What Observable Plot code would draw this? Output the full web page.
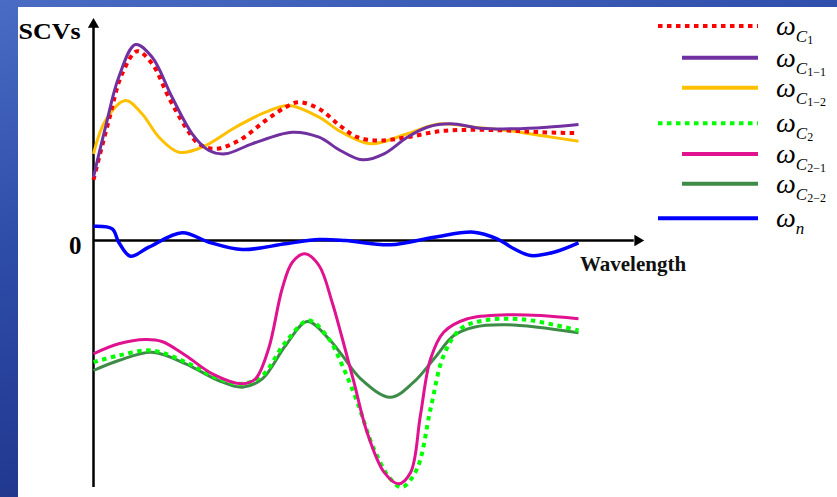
<!DOCTYPE html>
<html><head><meta charset="utf-8">
<script src="https://cdn.jsdelivr.net/npm/d3@7"></script>
<script src="https://cdn.jsdelivr.net/npm/@observablehq/plot@0.6"></script>
<style>
html,body{margin:0;padding:0;}
body{width:837px;height:497px;overflow:hidden;background:linear-gradient(165deg,#4a6cc4 0%,#2d4ca8 35%,#22388f 70%,#1a2c7c 100%);}
#wrap{position:relative;width:837px;height:497px;}
#panel{position:absolute;left:18px;top:7px;right:0;bottom:0;background:#fff;}
#chart{position:absolute;left:0;top:0;}
#legend{position:absolute;left:0;top:0;}
</style></head><body>
<div id="wrap"><div id="panel"></div><div id="chart"></div><svg id="legend" width="837" height="497"></svg></div>
<script>
// ---- data (wavelength index 0..100, SCV value) ----
const omegaC1 = [[0,6.07],[3.15,12.0],[5.9,16.67],[9.0,18.93],[12.1,17.67],[15.5,14.33],[19.0,11.33],[21.7,9.67],[25.2,9.17],[30.0,10.0],[35.5,12.0],[39.6,13.33],[42.3,13.83],[46.5,13.17],[50.9,11.45],[54.4,10.33],[59.2,10.0],[64.7,10.33],[71.5,10.93],[78.4,11.07],[85.3,11.0],[92.2,10.83],[100,10.73]];
const omegaC11 = [[0,6.33],[2.47,11.33],[5.2,16.33],[8.66,19.6],[12.1,18.33],[16.2,14.33],[20.35,10.67],[23.8,9.0],[27.2,8.67],[32.7,9.67],[41.0,10.83],[46.5,10.33],[50.9,9.0],[55.4,8.07],[59.9,8.67],[64.7,10.33],[68.8,11.33],[73.6,11.67],[79.8,11.23],[86.7,11.17],[93.5,11.33],[100,11.6]];
const omegaC12 = [[0,8.67],[2.47,12.0],[6.6,14.0],[10.0,12.67],[13.5,10.33],[17.6,8.83],[22.4,9.33],[29.3,11.33],[35.5,12.83],[40.3,13.5],[46.5,12.33],[50.9,10.9],[57.1,9.67],[64.7,10.67],[71.5,11.67],[78.4,11.33],[85.3,11.0],[92.2,10.5],[100,9.93]];
const omegaC2 = [[0,-12.17],[5.2,-11.5],[12.1,-11.0],[19.0,-12.17],[25.8,-13.83],[30.7,-14.33],[34.8,-13.5],[39.6,-10.17],[44.4,-8.0],[48.5,-9.83],[51.3,-12.5],[54.4,-16.17],[57.8,-20.83],[61.2,-23.83],[63.6,-24.67],[66.7,-22.83],[69.5,-16.83],[72.2,-11.5],[75.7,-8.83],[80.5,-8.0],[88.7,-7.9],[100,-9.0]];
const omegaC21 = [[0,-11.33],[5.2,-10.33],[10.7,-9.9],[14.1,-10.1],[19.0,-11.5],[24.5,-13.33],[30.7,-14.33],[33.4,-13.83],[36.1,-10.83],[38.9,-4.83],[41.0,-2.17],[43.6,-1.33],[46.5,-2.5],[49.2,-6.17],[51.3,-9.8],[53.7,-14.17],[56.4,-19.17],[59.9,-23.17],[62.9,-24.33],[65.4,-23.17],[67.4,-17.5],[69.5,-11.83],[72.2,-9.17],[77.1,-7.83],[85.3,-7.43],[92.2,-7.5],[100,-7.83]];
const omegaC22 = [[0,-13.0],[5.2,-12.0],[12.1,-11.17],[19.0,-12.33],[25.8,-14.0],[30.7,-14.67],[34.8,-13.83],[39.6,-10.5],[44.1,-8.1],[48.5,-9.83],[51.3,-11.5],[55.1,-13.83],[61.2,-15.67],[66.0,-14.17],[70.2,-11.83],[74.3,-9.5],[78.4,-8.67],[85.3,-8.43],[100,-9.23]];
const omegaN = [[0,1.43],[3.86,1.17],[5.2,-0.17],[7.6,-1.57],[11.4,-0.67],[18.3,0.77],[23.8,-0.17],[30.7,-0.9],[39.6,-0.33],[46.5,0.1],[52.0,0],[61.2,-0.43],[70.2,0.33],[78.4,0.83],[83.2,0.17],[86.7,-0.83],[90.1,-1.5],[94.9,-1.17],[100,-0.23]];

const yTicks = [0];
const axisLabels = {x: "Wavelength", y: "SCVs"};

// series definitions
const series = [
  {data: omegaC12, color: "#ffc000", dotted: false, sub: "C", subsub: "1\u22122"},
  {data: omegaC1,  color: "#ff0000", dotted: true,  sub: "C", subsub: "1"},
  {data: omegaC11, color: "#7030a0", dotted: false, sub: "C", subsub: "1\u22121"},
  {data: omegaC22, color: "#3d8b47", dotted: false, sub: "C", subsub: "2\u22122"},
  {data: omegaC2,  color: "#00ff00", dotted: true,  sub: "C", subsub: "2"},
  {data: omegaC21, color: "#e0128f", dotted: false, sub: "C", subsub: "2\u22121"},
  {data: omegaN,   color: "#0000ff", dotted: false, sub: "n", subsub: null}
];
const legendOrder = [1, 2, 0, 4, 5, 3, 6];

const serif = "'Liberation Serif','Times New Roman',serif";

const lineMarks = series.map(s => Plot.line(s.data, {
  x: d => d[0], y: d => d[1], stroke: s.color,
  strokeWidth: s.dotted ? 4 : (s.sub === "n" ? 3.5 : 3),
  strokeDasharray: s.dotted ? "4.5,4.5" : null,
  strokeLinecap: "butt",
  curve: "catmull-rom"
}));

const chart = Plot.plot({
  width: 837, height: 497,
  marginLeft: 93, marginRight: 259, marginTop: 10, marginBottom: 7,
  x: {domain: [0, 100], axis: null},
  y: {domain: [-25, 23], axis: null},
  style: {background: "transparent", overflow: "visible"},
  marks: [
    Plot.ruleX([0], {y1: -24.7, y2: 21.5, stroke: "black", strokeWidth: 2.5}),
    Plot.dot([{x: 0, y: 21.6}], {x: "x", y: "y", symbol: "triangle", r: 4.2, fill: "black", stroke: null}),
    Plot.ruleY([0], {x1: 0, x2: 111.5, stroke: "black", strokeWidth: 2.5}),
    Plot.dot([{x: 112.2, y: 0}], {x: "x", y: "y", symbol: "triangle", r: 4.2, fill: "black", stroke: null, rotate: 90}),
    Plot.axisY(yTicks, {tickSize: 0, tickPadding: 12, fontSize: 25, fontWeight: "bold", fontFamily: serif, fill: "black", label: null, dy: 5}),
    Plot.text([axisLabels.y], {frameAnchor: "top-left", textAnchor: "start", lineAnchor: "middle", dx: -75, dy: 20.6, fontSize: 24, fontWeight: "bold", fontFamily: serif, fill: "black"}),
    Plot.text([axisLabels.x], {x: 100.3, y: 0, textAnchor: "start", dx: 0, dy: 24, fontSize: 21, fontWeight: "bold", fontFamily: serif, fill: "#111"}),
    ...lineMarks
  ]
});
document.getElementById("chart").appendChild(chart);
d3.select(chart).selectAll("text").filter(function(){return this.textContent === "SCVs";})
  .attr("textLength", 62).attr("lengthAdjust", "spacingAndGlyphs");

// ---- legend ----
const legendY = [26, 57.7, 87.7, 123.3, 154, 183.7, 218.3];
const lg = d3.select("#legend");
legendOrder.forEach((si, i) => {
  const s = series[si];
  const y = legendY[i];
  const x1 = (s.dotted || s.sub === "n") ? 658 : 682;
  lg.append("line").attr("x1", x1).attr("x2", 758).attr("y1", y).attr("y2", y)
    .attr("stroke", s.color).attr("stroke-width", 4)
    .attr("stroke-dasharray", s.dotted ? "4.5,4.5" : null);
  const t = lg.append("text").attr("x", 776).attr("y", y + 9).attr("font-family", serif).attr("fill", "#000");
  t.append("tspan").attr("font-size", 28).attr("font-style", "italic").text("\u03c9");
  t.append("tspan").attr("font-size", 17).attr("font-style", "italic").attr("dy", 7).text(s.sub);
  if (s.subsub) t.append("tspan").attr("font-size", 12).attr("dy", 2).text(s.subsub);
});
</script>
</body></html>
